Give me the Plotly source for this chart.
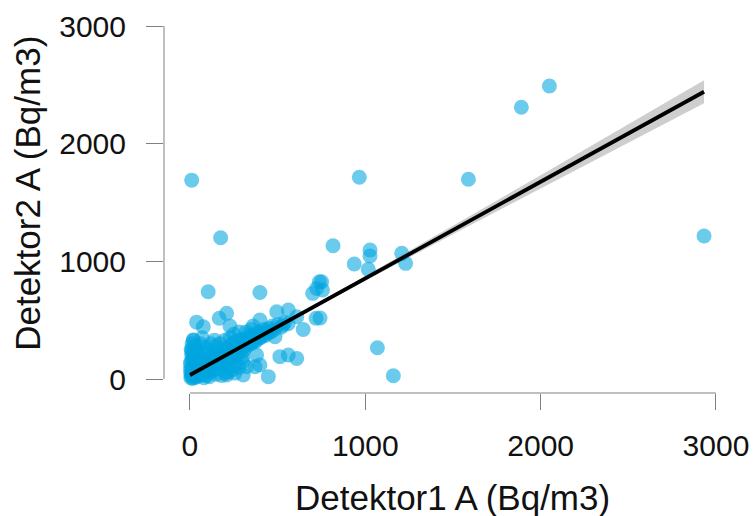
import plotly.graph_objects as go

# Scattered / outlying points
x_out = [10, 175, 104, 399, 966, 1588, 1890, 2050, 2932, 816, 1027, 1027, 937, 1017,
         1208, 1230, 751, 756, 742, 1069, 1160, 738, 723, 700, 209, 167, 38, 76, 228,
         399, 495, 561, 609, 719, 532, 646, 485, 513, 561, 609, 380, 371, 323, 304, 447,
         399, 209, 257, 19, 10]
y_out = [1690, 1200, 742, 735, 1714, 1697, 2310, 2490, 1215, 1132, 1096, 1045, 977, 932,
         1068, 983, 827, 756, 518, 266, 28, 827, 770, 728, 558, 516, 483, 444, 450,
         501, 572, 586, 529, 516, 459, 421, 360, 190, 204, 175, 204, 104, 104, 34, 20,
         119, 34, 50, 331, 246]

# Dense cluster near the origin
x_dense = [5, 8, 12, 15, 20, 3, 10, 18, 25, 30, 6, 14, 22, 35, 40, 45, 9, 16, 28, 12,
           20, 38, 50, 55, 48, 30, 42, 58, 60, 26, 33, 52, 4, 11, 24, 36, 44, 2, 17, 7,
           65, 70, 75, 80, 85, 90, 95, 100, 105, 110, 115, 120, 125, 130, 135, 140, 145,
           150, 155, 160, 165, 170, 175, 180, 185, 190, 195, 200, 205, 210, 215, 220, 225,
           230, 235, 240, 245, 250, 255, 260, 265, 270, 275, 280, 285, 290, 295, 300, 305,
           310, 315, 320, 325, 330, 340, 345, 350, 360, 370, 375, 385, 390, 400, 410, 420,
           430, 440, 450, 460, 470, 480, 500, 520, 540, 560,
           60, 70, 85, 100, 120, 150, 80, 110, 150, 200, 180, 240, 260, 220, 300, 280, 130,
           90, 140, 170, 250, 320, 350, 360, 280, 230, 200, 300,
           15, 25, 35, 45, 55, 65, 75, 90, 105, 125, 145, 165, 185, 205, 225, 245, 265,
           285, 310, 335, 355, 380, 405, 430, 455]
y_dense = [10, 25, 40, 5, 60, 80, 100, 120, 30, 50, 150, 170, 190, 80, 20, 110, 210, 240,
           260, 300, 330, 150, 60, 130, 200, 280, 240, 30, 90, 12, 160, 170, 50, 70, 90, 40,
           70, 130, 200, 250,
           60, 100, 40, 140, 80, 120, 30, 160, 90, 60, 130, 180, 100, 70, 150, 200, 120, 90,
           170, 140, 220, 110, 180, 150, 240, 130, 200, 170, 260, 140, 210, 190, 280, 160,
           230, 200, 300, 180, 250, 220, 320, 200, 270, 240, 330, 260, 300, 230, 340, 280,
           260, 310, 350, 290, 320, 370, 300, 340, 380, 320, 360, 400, 350, 390, 420, 370,
           410, 430, 400, 450, 420, 460, 440, 480, 470,
           300, 350, 270, 250, 300, 280, 10, 20, 40, 50, 30, 80, 120, 60, 150, 100, 230,
           220, 330, 300, 380, 400, 420, 450, 400, 350, 330, 180,
           45, 55, 65, 75, 85, 95, 105, 115, 125, 140, 155, 170, 185, 200, 215, 230, 245,
           260, 280, 300, 315, 335, 355, 380, 400]

# Regression line and confidence band
fit_x = [0, 500, 1000, 1500, 2000, 2500, 2932]
fit_y = [34, 445, 855, 1266, 1676, 2087, 2441]
fit_lo = [20, 437, 835, 1231, 1621, 2009, 2343]
fit_hi = [48, 453, 875, 1301, 1731, 2165, 2539]

tick_vals = [0, 1000, 2000, 3000]
tick_text = ["0", "1000", "2000", "3000"]

xs = x_out + x_dense
ys = y_out + y_dense

fig = go.Figure()
fig.add_trace(go.Scatter(
    x=fit_x + fit_x[::-1], y=fit_hi + fit_lo[::-1],
    fill="toself", fillcolor="rgba(190,190,190,0.75)",
    line=dict(width=0), mode="lines", hoverinfo="skip", showlegend=False))
fig.add_trace(go.Scatter(
    x=xs, y=ys, mode="markers",
    marker=dict(size=15, color="rgba(0,165,224,0.58)", line=dict(width=0)),
    showlegend=False))
fig.add_trace(go.Scatter(
    x=fit_x, y=fit_y, mode="lines",
    line=dict(color="black", width=3.8), showlegend=False))

axis_col = "#808080"
fig.update_layout(
    width=753, height=516,
    margin=dict(l=164, r=13, t=10, b=123, autoexpand=False),
    plot_bgcolor="white", paper_bgcolor="white",
    font=dict(family="Liberation Sans, Arial, sans-serif", color="black"),
    xaxis=dict(range=[-148, 3137], tickvals=tick_vals, ticktext=tick_text,
               ticks="outside", ticklen=16, tickwidth=1, tickcolor=axis_col,
               showgrid=False, zeroline=False, showline=False, automargin=False,
               tickfont=dict(size=30, color="#111"), ticklabelstandoff=10),
    yaxis=dict(range=[-119, 3136], tickvals=tick_vals, ticktext=tick_text,
               ticks="outside", ticklen=17, tickwidth=1, tickcolor=axis_col,
               showgrid=False, zeroline=False, showline=False, automargin=False,
               tickfont=dict(size=30, color="#111"), ticklabelstandoff=14),
    shapes=[
        dict(type="line", xref="x", yref="paper", x0=0, x1=3000, y0=0, y1=0,
             line=dict(color=axis_col, width=1)),
        dict(type="line", xref="paper", yref="y", x0=0, x1=0, y0=0, y1=3000,
             line=dict(color=axis_col, width=1)),
    ],
    annotations=[
        dict(text="Detektor1 A (Bq/m3)", xref="paper", yref="paper", x=0.5, y=0,
             xanchor="center", yanchor="middle", yshift=-104, showarrow=False,
             font=dict(size=35, color="#111")),
        dict(text="Detektor2 A (Bq/m3)", xref="paper", yref="paper", x=0, y=0.52,
             xanchor="center", yanchor="middle", xshift=-136, textangle=-90,
             showarrow=False, font=dict(size=35, color="#111")),
    ],
)

fig.write_html("out.html",
               config={"displayModeBar": False},
               post_script="document.body.style.margin='0';"
                           "document.body.style.overflow='hidden';")
